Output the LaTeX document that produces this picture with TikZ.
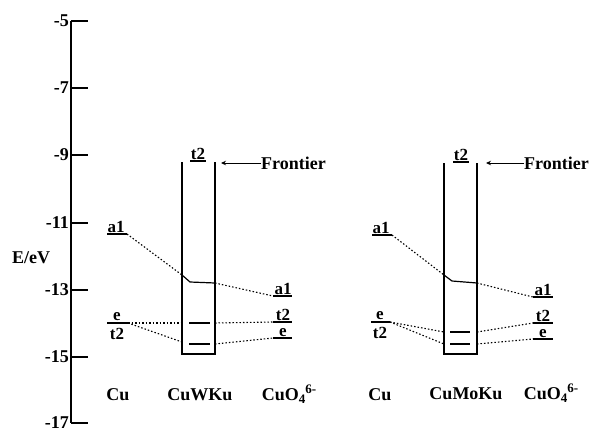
\documentclass[tikz,border=0pt]{standalone}
\usepackage{fontspec}
\setmainfont{Liberation Serif}
\usetikzlibrary{arrows.meta}
\newcommand{\cuofour}{CuO\raisebox{-0.35ex}{\fontsize{13}{13}\selectfont 4}\raisebox{0.85ex}{\fontsize{13}{13}\selectfont 6-}}
\begin{document}
\begin{tikzpicture}[x=1pt,y=-1pt,
  big/.style={font=\bfseries\fontsize{18}{18}\selectfont, inner sep=0pt},
  lab/.style={font=\bfseries\fontsize{17}{17}\selectfont, inner sep=0pt, anchor=base},
  lvl/.style={line width=1.2pt},
  thlvl/.style={line width=2.2pt},
  conn/.style={line width=1.1pt, dash pattern=on 1.5pt off 2pt},
  wall/.style={line width=1.4pt},
  arr/.style={line width=1pt, -{Stealth[length=5pt,width=4.5pt]}}]
\useasboundingbox (0,0) rectangle (592,432);
% axis
\coordinate (axtop) at (71,21);
\coordinate (axbot) at (71,423);
\draw[line width=1.8pt] (axtop) -- (axbot);
\foreach \v/\yy in {-5/21,-7/88,-9/155,-11/223,-13/290,-15/357,-17/423}{
  \coordinate (tk\v) at (71,\yy);
  \draw[line width=1.1pt] (tk\v) -- ++(17,0);
  \node[big, anchor=east] (tl\v) at (69,\yy) {\v};
}
\node[big] (elab) at (31,258) {E/eV};

% ===== group 1 =====
\coordinate (c1a1L) at (107,234); \coordinate (c1a1R) at (127,234);
\draw[lvl] (c1a1L) -- (c1a1R);
\node[lab] (c1a1) at (116,232) {a1};
\coordinate (c1etL) at (107,323); \coordinate (c1etR) at (128,323);
\draw[thlvl] (c1etL) -- (c1etR);
\node[lab] (c1e) at (117,320.5) {e};
\node[lab] (c1t2) at (117,339) {t2};

\coordinate (b1TL) at (182,162); \coordinate (b1BL) at (182,354);
\coordinate (b1BR) at (215,354); \coordinate (b1TR) at (215,162);
\draw[wall] (b1TL) -- (b1BL) -- (b1BR) -- (b1TR);
\coordinate (b1tL) at (190,161); \coordinate (b1tR) at (206,161);
\draw[lvl] (b1tL) -- (b1tR);
\node[lab] (b1t2) at (198,159) {t2};
\coordinate (b1a1in) at (182,275); \coordinate (b1a1k) at (190,282); \coordinate (b1a1out) at (215,283);
\draw[lvl] (b1a1in) -- (b1a1k) -- (b1a1out);
\coordinate (b1t2L) at (189,323); \coordinate (b1t2R) at (210,323);
\coordinate (b1t2wl) at (182,323); \coordinate (b1t2wr) at (215,323);
\draw[thlvl] (b1t2L) -- (b1t2R);
\coordinate (b1eL) at (189,344); \coordinate (b1eR) at (210,344);
\coordinate (b1ewl) at (182,342); \coordinate (b1ewr) at (215,344);
\draw[thlvl] (b1eL) -- (b1eR);

\coordinate (o1a1L) at (273,296); \coordinate (o1a1R) at (292,296);
\draw[lvl] (o1a1L) -- (o1a1R);
\node[lab] (o1a1) at (283,294) {a1};
\coordinate (o1t2L) at (273,322); \coordinate (o1t2R) at (292,322);
\draw[lvl] (o1t2L) -- (o1t2R);
\node[lab] (o1t2) at (283,320) {t2};
\coordinate (o1eL) at (273,338); \coordinate (o1eR) at (292,338);
\draw[thlvl] (o1eL) -- (o1eR);
\node[lab] (o1e) at (283,336.5) {e};

\draw[conn] (c1a1R) -- (b1a1in);
\draw[conn] (b1a1out) -- (o1a1L);
\draw[conn] (c1etR) -- (b1t2wl);
\draw[conn] (b1t2wr) -- (o1t2L);
\draw[conn] (c1etR) -- (b1ewl);
\draw[conn] (b1ewr) -- (o1eL);

\node[big, anchor=west] (fr1) at (261,163) {Frontier};
\coordinate (fr1tip) at (221,163);
\draw[arr] (fr1.west) -- (fr1tip);

\node[big] (n1cu) at (118,395) {Cu};
\node[big] (n1w) at (200,395) {CuWKu};
\node[big] (n1o) at (289,394) {\cuofour};

% ===== group 2 =====
\coordinate (c2a1L) at (372,235); \coordinate (c2a1R) at (392,235);
\draw[lvl] (c2a1L) -- (c2a1R);
\node[lab] (c2a1) at (381,233) {a1};
\coordinate (c2etL) at (371,322); \coordinate (c2etR) at (390,322);
\draw[thlvl] (c2etL) -- (c2etR);
\node[lab] (c2e) at (380,319.5) {e};
\node[lab] (c2t2) at (380,338) {t2};

\coordinate (b2TL) at (444,163); \coordinate (b2BL) at (444,354);
\coordinate (b2BR) at (477,354); \coordinate (b2TR) at (477,163);
\draw[wall] (b2TL) -- (b2BL) -- (b2BR) -- (b2TR);
\coordinate (b2tL) at (453,162); \coordinate (b2tR) at (469,162);
\draw[lvl] (b2tL) -- (b2tR);
\node[lab] (b2t2) at (461,160) {t2};
\coordinate (b2a1in) at (444,275); \coordinate (b2a1k) at (452,281); \coordinate (b2a1out) at (477,283);
\draw[lvl] (b2a1in) -- (b2a1k) -- (b2a1out);
\coordinate (b2t2L) at (450,332); \coordinate (b2t2R) at (470,332);
\coordinate (b2t2wl) at (444,332); \coordinate (b2t2wr) at (477,332);
\draw[thlvl] (b2t2L) -- (b2t2R);
\coordinate (b2eL) at (450,344); \coordinate (b2eR) at (470,344);
\coordinate (b2ewl) at (444,344); \coordinate (b2ewr) at (477,344);
\draw[line width=2.8pt] (b2eL) -- (b2eR);

\coordinate (o2a1L) at (533,297); \coordinate (o2a1R) at (553,297);
\draw[lvl] (o2a1L) -- (o2a1R);
\node[lab] (o2a1) at (543,295) {a1};
\coordinate (o2t2L) at (533,323); \coordinate (o2t2R) at (553,323);
\draw[lvl] (o2t2L) -- (o2t2R);
\node[lab] (o2t2) at (543,321) {t2};
\coordinate (o2eL) at (533,339); \coordinate (o2eR) at (553,339);
\draw[thlvl] (o2eL) -- (o2eR);
\node[lab] (o2e) at (543,337.5) {e};

\draw[conn] (c2a1R) -- (b2a1in);
\draw[conn] (b2a1out) -- (o2a1L);
\draw[conn] (c2etR) -- (b2t2wl);
\draw[conn] (b2t2wr) -- (o2t2L);
\draw[conn] (c2etR) -- (b2ewl);
\draw[conn] (b2ewr) -- (o2eL);

\node[big, anchor=west] (fr2) at (524,163) {Frontier};
\coordinate (fr2tip) at (486,163);
\draw[arr] (fr2.west) -- (fr2tip);

\node[big] (n2cu) at (380,395) {Cu};
\node[big] (n2m) at (466,394) {CuMoKu};
\node[big] (n2o) at (551,393) {\cuofour};
\end{tikzpicture}
\end{document}
